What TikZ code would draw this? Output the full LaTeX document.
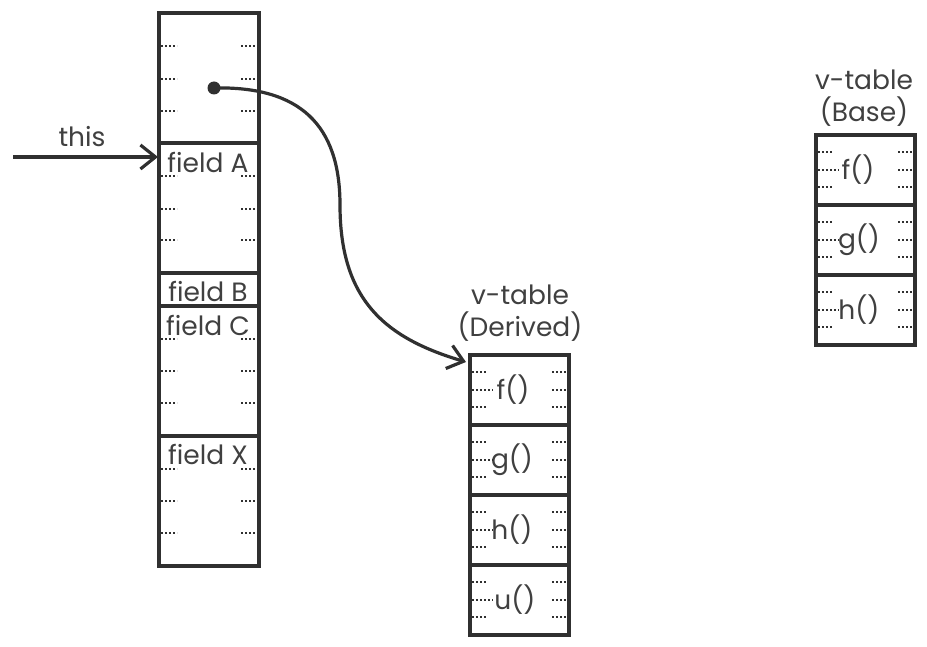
\documentclass[tikz,border=0pt]{standalone}
\usepackage{fontspec}
\setmainfont{Poppins}
\usetikzlibrary{arrows.meta}
\definecolor{ink}{HTML}{303030}
\definecolor{txt}{HTML}{404040}

\begin{document}
\begin{tikzpicture}[x=1pt,y=-1pt,inner sep=0pt,
  slot/.style={draw=ink,line width=3.2pt,minimum width=100pt},
  dots/.style={ink,line width=2pt,dash pattern=on 2pt off 2pt},
  lbl/.style={text=txt,font=\fontsize{26.5}{29}\selectfont},
  barb/.style={ink,line width=3.2pt,-{Straight Barb[length=15pt,width=24pt]}}]
\useasboundingbox (0,0) rectangle (927,647);
% Object layout
\node at (209,78) [slot,minimum height=130pt] (Top) {};
\node at (209,208) [slot,minimum height=130pt] (FieldA) {};
\node at (209,289.5) [slot,minimum height=33pt] (FieldB) {};
\node at (209,371) [slot,minimum height=130pt] (FieldC) {};
\node at (209,501) [slot,minimum height=130pt] (FieldX) {};
\node [lbl] at (208,162) {field A};
\node [lbl] at (208,291) {field B};
\node [lbl] at (208,325) {field C};
\node [lbl] at (208,454) {field X};
\foreach \y in {46,79,111,176,209,240,339,371,403,469,501,533} {
  \draw [dots] (161,\y) -- (177,\y);
  \draw [dots] (241,\y) -- (258,\y);
}
% v-table (Derived)
\node at (519.5,390) [slot,minimum width=99pt,minimum height=70pt] (DerF) {};
\node at (519.5,460) [slot,minimum width=99pt,minimum height=70pt] (DerG) {};
\node at (519.5,530) [slot,minimum width=99pt,minimum height=70pt] (DerH) {};
\node at (519.5,600) [slot,minimum width=99pt,minimum height=70pt] (DerU) {};
\node [lbl] at (520,295) {v-table};
\node [lbl] at (520,327) {(Derived)};
\node [lbl] at (513,390) {f()};
\node [lbl] at (512,460) {g()};
\node [lbl] at (512,530) {h()};
\node [lbl] at (515,600) {u()};
% v-table (Base)
\node at (865.5,170) [slot,minimum width=99pt,minimum height=70pt] (BaseF) {};
\node at (865.5,240) [slot,minimum width=99pt,minimum height=70pt] (BaseG) {};
\node at (865.5,310) [slot,minimum width=99pt,minimum height=70pt] (BaseH) {};
\node [lbl] at (864,80) {v-table};
\node [lbl] at (864,112) {(Base)};
\node [lbl] at (858,170) {f()};
\node [lbl] at (859,240) {g()};
\node [lbl] at (859,310) {h()};
% Slot dots
\foreach \t/\x in {355/472,425/472,495/472,565/472,135/818,205/818,275/818} {
  \draw [dots] (\x,\t+17) -- (\x+15,\t+17);
  \draw [dots] (\x,\t+35) -- (\x+21,\t+35);
  \draw [dots] (\x,\t+52) -- (\x+15,\t+52);
  \draw [dots] (\x+80,\t+17) -- (\x+95,\t+17);
  \draw [dots] (\x+80,\t+35) -- (\x+95,\t+35);
  \draw [dots] (\x+80,\t+52) -- (\x+95,\t+52);
}
% Pointers
\coordinate (ThisStart) at (13,157);
\coordinate (ThisEnd) at (158,157);
\node [lbl] at (82,137) {this};
\draw [barb] (ThisStart) -- (ThisEnd);
\node at (214,88) [circle,fill=ink,minimum size=13pt] (Ptr) {};
\coordinate (VTip) at (466,362);
\draw [barb] (Ptr.center) .. controls (300,86) and (340,125) .. (340,205)
  .. controls (340,300) and (385,338) .. (VTip);
\end{tikzpicture}
\end{document}
